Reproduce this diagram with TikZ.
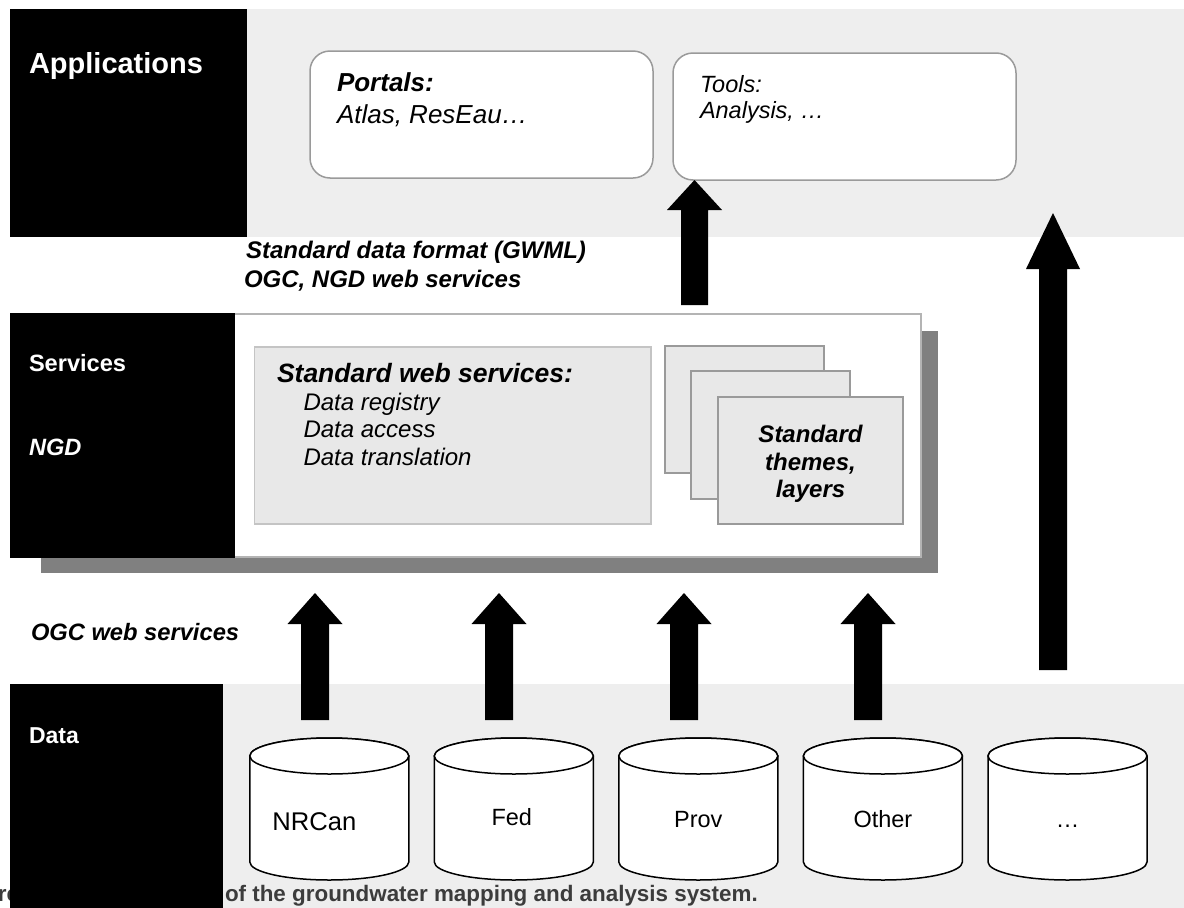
\documentclass[tikz,border=0pt]{standalone}
\usepackage{fontspec}
\setmainfont{Liberation Sans}
\usetikzlibrary{calc}
\definecolor{band}{HTML}{EEEEEE}
\definecolor{boxline}{HTML}{9A9A9A}
\definecolor{panel}{HTML}{E8E8E8}
\definecolor{panelline}{HTML}{C4C4C4}
\definecolor{shadowgrey}{HTML}{808080}
\definecolor{whiteline}{HTML}{B4B4B4}
\definecolor{captiongrey}{HTML}{3C3C3C}
\newcommand\fsz[1]{\fontsize{#1}{#1}\selectfont}
% block arrow: #1 base coord, #2 tip coord, #3 shaft half width, #4 head half width, #5 head length
\newcommand\blockup[5]{%
  \fill[black] (#2) -- ($(#2)+(#4,#5)$) -- ($(#2)+(#3,#5)$) -- ($(#1)+(#3,0)$)
    -- ($(#1)+(-#3,0)$) -- ($(#2)+(-#3,#5)$) -- ($(#2)+(-#4,#5)$) -- cycle;}
% database cylinder: #1 name, #2 centre x, #3 label, #4 label x offset, #5 font size, #6 label baseline
\newcommand\dbcyl[6]{%
  \draw[cylline] ({#2-79.5},756) -- ({#2-79.5},862)
    arc[start angle=180, end angle=0, x radius=79.5, y radius=18]
    -- ({#2+79.5},756)
    arc[start angle=0, end angle=-180, x radius=79.5, y radius=18] -- cycle;
  \draw[cylline] (#2,756) ellipse[x radius=79.5, y radius=18];
  \node[txt, anchor=base, font=\fsz{#5}] (#1) at ({#2+#4},#6) {#3};}
\begin{document}
\begin{tikzpicture}[x=1pt,y=-1pt,
  rect/.style={inner sep=0, outer sep=0, anchor=north west},
  txt/.style={inner sep=0, outer sep=0, anchor=base west},
  rbox/.style={rect, fill=white, draw=boxline, line width=1.5pt, rounded corners=20pt},
  layerbox/.style={rect, fill=panel, draw=boxline, line width=1.5pt},
  cylline/.style={fill=white, draw=black, line width=1.5pt},
  blk/.style={rect, fill=black},
  bandbox/.style={rect, fill=band}]
\useasboundingbox (0,0) rectangle (1184,908);
\fill[white] (0,0) rectangle (1184,908);

% ---------- Applications layer ----------
\node[bandbox, minimum width=937pt, minimum height=228pt] (appband) at (247,9) {};
\node[blk, minimum width=237.4pt, minimum height=228pt] (appblk) at (9.6,9) {};
\node[txt, text=white, font=\fsz{29}\bfseries] (applbl) at (29,73) {Applications};

\node[rbox, minimum width=343pt, minimum height=127pt] (portals) at (310,51) {};
\node[txt, font=\fsz{26}\bfseries\itshape] (portalsA) at (337,91) {Portals:};
\node[txt, font=\fsz{26}\itshape] (portalsB) at (337,123) {Atlas, ResEau…};

\node[rbox, minimum width=343pt, minimum height=127pt] (tools) at (673,53) {};
\node[txt, font=\fsz{23.5}\itshape] (toolsA) at (700,92) {Tools:};
\node[txt, font=\fsz{23.5}\itshape] (toolsB) at (700,118) {Analysis, …};

\node[txt, font=\fsz{24}\bfseries\itshape] (fmtA) at (246,258) {Standard data format (GWML)};
\node[txt, font=\fsz{24}\bfseries\itshape] (fmtB) at (244,287) {OGC, NGD web services};

% ---------- Services layer ----------
\node[rect, fill=shadowgrey, minimum width=897pt, minimum height=242pt] (svcshadow) at (41,331) {};
\node[rect, fill=white, draw=whiteline, line width=2pt, minimum width=909pt, minimum height=243pt] (svcbox) at (12,314) {};
\node[blk, minimum width=225.4pt, minimum height=245pt] (svcblk) at (9.6,313) {};
\node[txt, text=white, font=\fsz{23.6}\bfseries] (svclbl) at (29,371) {Services};
\node[txt, text=white, font=\fsz{23.6}\bfseries\itshape] (ngdlbl) at (29,455) {NGD};

\node[rect, fill=panel, draw=panelline, line width=1.5pt, minimum width=396.5pt, minimum height=177pt] (sws) at (254.5,347) {};
\node[txt, font=\fsz{26.5}\bfseries\itshape] (swsA) at (277,382) {Standard web services:};
\node[txt, font=\fsz{24}\itshape] (swsB) at (303.5,410) {Data registry};
\node[txt, font=\fsz{24}\itshape] (swsC) at (303.5,437) {Data access};
\node[txt, font=\fsz{24}\itshape] (swsD) at (303.5,465) {Data translation};

\node[layerbox, minimum width=159pt, minimum height=127pt] (layer1) at (665,346) {};
\node[layerbox, minimum width=159pt, minimum height=128pt] (layer2) at (691,371) {};
\node[layerbox, minimum width=185pt, minimum height=127pt] (layer3) at (718,397) {};
\node[txt, anchor=base, font=\fsz{24}\bfseries\itshape] (layA) at (810.5,442) {Standard};
\node[txt, anchor=base, font=\fsz{24}\bfseries\itshape] (layB) at (810.5,470) {themes,};
\node[txt, anchor=base, font=\fsz{24}\bfseries\itshape] (layC) at (810.5,497) {layers};

\node[txt, font=\fsz{23.7}\bfseries\itshape] (ogclbl) at (31,640) {OGC web services};

% ---------- Data layer ----------
\node[txt, text=captiongrey, font=\fsz{22.4}\bfseries] (capA) at (-2,901) {re};
\node[bandbox, minimum width=961pt, minimum height=224pt] (databand) at (223,684) {};
\node[blk, minimum width=213.4pt, minimum height=224pt] (datablk) at (9.6,684) {};
\node[txt, text=white, font=\fsz{23}\bfseries] (datalbl) at (29,743) {Data};

\dbcyl{nrcan}{329.3}{NRCan}{-15}{25.6}{830}
\dbcyl{fed}{513.8}{Fed}{-2}{23.5}{825}
\dbcyl{prov}{698.3}{Prov}{0}{23.5}{827}
\dbcyl{other}{882.9}{Other}{0}{23.5}{827}
\dbcyl{more}{1067.5}{…}{0}{23.5}{827}

\node[txt, text=captiongrey, font=\fsz{22.4}\bfseries] (capB) at (225,901) {of the groundwater mapping and analysis system.};

% ---------- Arrows ----------
\coordinate (arrToolsBase) at (694.5,305);
\coordinate (arrToolsTip) at (694.5,180);
\blockup{arrToolsBase}{arrToolsTip}{13.5}{27.5}{30}

\coordinate (arrBigBase) at (1053,670);
\coordinate (arrBigTip) at (1053,213);
\blockup{arrBigBase}{arrBigTip}{14}{27}{56}

\foreach \n/\x in {1/315,2/499,3/684,4/868}{
  \coordinate (arrB\n) at (\x,720);
  \coordinate (arrT\n) at (\x,593);
  \blockup{arrB\n}{arrT\n}{14}{27.5}{31}
}
\end{tikzpicture}
\end{document}
